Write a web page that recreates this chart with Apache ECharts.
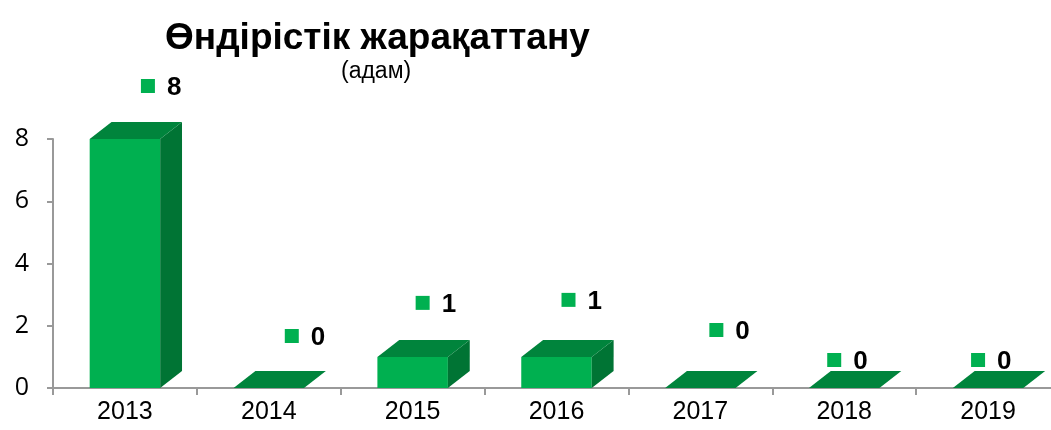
<!DOCTYPE html>
<html>
<head>
    <meta charset="utf-8">
    <script src="https://cdn.jsdelivr.net/npm/echarts@6/dist/echarts.min.js"></script>
</head>
<body style="margin:0">
    <div id="main" style="width:1051px;height:430px;"></div>
	<script type="text/javascript">
	// data
	var years = ['2013', '2014', '2015', '2016', '2017', '2018', '2019'];
	var injuries = [8, 0, 1, 1, 0, 0, 0];
	var yTicks = [0, 2, 4, 6, 8];
	// label offsets (px) from bar top, as moved by hand in the original
	var labelShift = [[23, -53], [23, -52], [10, -54], [12, -57], [16, -58], [-10, -28], [-10, -28]];

	var FRONT = '#00b050', TOP = '#00843c', SIDE = '#007434';

	myChart = echarts.init(document.getElementById('main'));

	function renderBar(params, api) {
		var i = api.value(0), v = api.value(1);
		var top = api.coord([i, v]);
		var base = api.coord([i, 0]);
		var w = api.size([1, 0])[0] * 0.49;
		var dx = w * 0.31, dy = w * 0.24;
		var x0 = top[0] - w / 2, x1 = top[0] + w / 2;
		var children = [];
		if (base[1] - top[1] > 0.5) {
			children.push({type: 'rect', shape: {x: x0, y: top[1], width: w, height: base[1] - top[1]}, style: {fill: FRONT}});
			children.push({type: 'polygon', shape: {points: [[x1, top[1]], [x1 + dx, top[1] - dy], [x1 + dx, base[1] - dy], [x1, base[1]]]}, style: {fill: SIDE}});
		}
		children.push({type: 'polygon', shape: {points: [[x0, top[1]], [x1, top[1]], [x1 + dx, top[1] - dy], [x0 + dx, top[1] - dy]]}, style: {fill: TOP}});
		var s = labelShift[params.dataIndex];
		var lx = top[0] + s[0], ly = top[1] + s[1];
		children.push({type: 'rect', shape: {x: lx - 7, y: ly - 7, width: 14, height: 14}, style: {fill: FRONT}});
		children.push({type: 'text', style: {x: lx + 19, y: ly + 2, text: String(v), fill: '#000', font: 'bold 26px "Liberation Sans", Arial', verticalAlign: 'middle', align: 'left'}});
		return {type: 'group', children: children};
	}

	myChart.setOption(option = {
		animation: false,
		title: [
			{
				text: 'Өндірістік жарақаттану',
				left: 160, top: 15,
				textStyle: {fontFamily: '"Liberation Sans", Arial', fontWeight: 'bold', fontSize: 37, color: '#000'}
			},
			{
				text: '(адам)',
				left: 336, top: 55,
				textStyle: {fontFamily: '"Liberation Sans", Arial', fontWeight: 'normal', fontSize: 23, color: '#000'}
			}
		],
		grid: {left: 53, right: -9, top: 139, bottom: 42, outerBoundsMode: 'none', containLabel: false},
		xAxis: {
			type: 'category',
			data: years,
			axisLine: {lineStyle: {color: '#999', width: 2}},
			axisTick: {show: true, length: 7, lineStyle: {color: '#999', width: 2}},
			axisLabel: {color: '#000', fontSize: 25, fontFamily: '"Liberation Sans", Arial', margin: 12}
		},
		yAxis: {
			type: 'value',
			min: yTicks[0], max: yTicks[yTicks.length - 1], interval: 2,
			axisLine: {show: true, lineStyle: {color: '#999', width: 2}},
			axisTick: {show: true, length: 6, lineStyle: {color: '#999', width: 2}},
			splitLine: {show: false},
			axisLabel: {color: '#000', fontSize: 25, fontFamily: '"Open Sans", sans-serif', margin: 24}
		},
		series: [
			{
				type: 'custom',
				renderItem: renderBar,
				data: injuries.map(function (v, i) { return [i, v]; }),
				encode: {x: 0, y: 1}
			}
		]
	});
	</script>
</body>
</html>
